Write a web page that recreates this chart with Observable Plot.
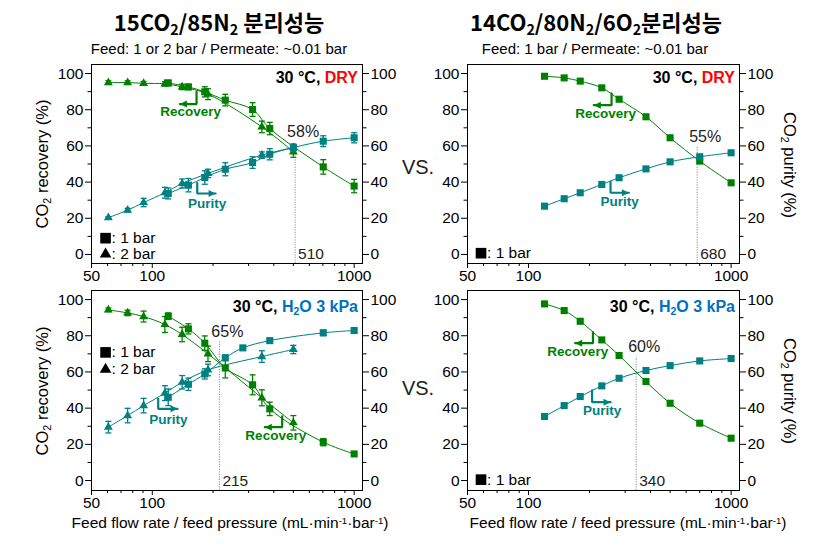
<!DOCTYPE html>
<html>
<head>
<meta charset="utf-8">
<script src="https://cdn.jsdelivr.net/npm/d3@7"></script>
<script src="https://cdn.jsdelivr.net/npm/@observablehq/plot@0.6"></script>
<style>
  html, body { margin: 0; padding: 0; background: #fff; }
  #chart { position: relative; width: 822px; height: 546px; overflow: hidden; background: #fff;
           font-family: "Liberation Sans", Arial, sans-serif; color: #000; }
  .abs { position: absolute; white-space: nowrap; line-height: 1; }
  .title { font-family: "Noto Sans CJK KR", "Liberation Sans", sans-serif; font-weight: bold; font-size: 22px; transform: translateX(-50%); }
  .sub { font-family: "Liberation Sans", Arial, sans-serif; font-size: 15px; transform: translateX(-50%); }
  .cond { font-weight: bold; font-size: 16px; }
  .ylab { font-size: 16.5px; }
  .xlab { font-size: 15.5px; transform: translateX(-50%); }
  .vs { font-size: 20px; color: #222; transform: translate(-50%, -50%); }
  sub { font-size: 0.65em; vertical-align: -0.3em; line-height: 0; }
  sup { font-size: 0.62em; vertical-align: 0.45em; line-height: 0; }
</style>
</head>
<body>
<div id="chart">
  <div class="abs title" style="left:219px; top:10px;">15CO<sub>2</sub>/85N<sub>2</sub> 분리성능</div>
  <div class="abs sub" style="left:219px; top:41px;">Feed: 1 or 2 bar / Permeate: ~0.01 bar</div>
  <div class="abs title" style="left:596px; top:10px;">14CO<sub>2</sub>/80N<sub>2</sub>/6O<sub>2</sub>분리성능</div>
  <div class="abs sub" style="left:595px; top:41px;">Feed: 1 bar / Permeate: ~0.01 bar</div>

  <div id="pA" class="abs" style="left:0px; top:56px;"></div>
  <div id="pB" class="abs" style="left:411px; top:56px;"></div>
  <div id="pC" class="abs" style="left:0px; top:284px;"></div>
  <div id="pD" class="abs" style="left:411px; top:284px;"></div>

  <div class="abs cond" style="right:464px; top:70px;">30 °C, <span style="color:#ff0000">DRY</span></div>
  <div class="abs cond" style="right:87px; top:70px;">30 °C, <span style="color:#ff0000">DRY</span></div>
  <div class="abs cond" style="right:464px; top:299px;">30 °C, <span style="color:#0070c0">H<sub>2</sub>O 3 kPa</span></div>
  <div class="abs cond" style="right:87px; top:299px;">30 °C, <span style="color:#0070c0">H<sub>2</sub>O 3 kPa</span></div>

  <div class="abs ylab" style="left:42px; top:164px; transform:translate(-50%,-50%) rotate(-90deg);">CO<sub>2</sub> recovery (%)</div>
  <div class="abs ylab" style="left:42px; top:391px; transform:translate(-50%,-50%) rotate(-90deg);">CO<sub>2</sub> recovery (%)</div>
  <div class="abs ylab" style="left:790px; top:165px; transform:translate(-50%,-50%) rotate(90deg);">CO<sub>2</sub> purity (%)</div>
  <div class="abs ylab" style="left:790px; top:391px; transform:translate(-50%,-50%) rotate(90deg);">CO<sub>2</sub> purity (%)</div>

  <div class="abs vs" style="left:418px; top:167px;">VS.</div>
  <div class="abs vs" style="left:418px; top:388px;">VS.</div>

  <div class="abs xlab" style="left:230px; top:515px;">Feed flow rate / feed pressure (mL·min<sup>-1</sup>·bar<sup>-1</sup>)</div>
  <div class="abs xlab" style="left:628px; top:515px;">Feed flow rate / feed pressure (mL·min<sup>-1</sup>·bar<sup>-1</sup>)</div>
</div>
<script>
// ---------------- DATA ----------------
// Panel A: 15CO2/85N2, 30 °C, DRY (1 bar squares, 2 bar triangles)
const A_rec1_x = [120, 151, 182, 230, 314, 382, 703, 1000];
const A_rec1_y = [94.8, 92.6, 89.9, 85.3, 80.1, 69.6, 48.4, 37.8];
const A_rec1_e = [1.5, 1.5, 2.8, 3.2, 3.8, 3.4, 4.0, 3.7];
const A_pur1_x = [120, 151, 182, 230, 314, 382, 500, 703, 1000];
const A_pur1_y = [33.7, 38.3, 42.5, 47.1, 50.8, 55.4, 59.1, 62.6, 64.5];
const A_pur1_e = [3.0, 3.7, 3.7, 3.6, 3.2, 3.1, 2.0, 3.0, 2.8];
const A_x2 = [60.6, 75.5, 90.6, 115.5, 140.6, 188.8, 349, 500];
const A_rec2_y = [95.0, 95.0, 94.6, 94.3, 92.6, 88.6, 70.5, 56.7];
const A_rec2_e = [1.0, 1.0, 1.0, 1.2, 1.5, 3.0, 3.2, 3.0];
const A_pur2_y = [20.3, 24.5, 28.7, 34.1, 39.2, 44.8, 54.9, 59.1];
const A_pur2_e = [0.5, 1.0, 2.3, 3.0, 2.5, 2.3, 1.8, 1.5];

// Panel B: 14CO2/80N2/6O2, 30 °C, DRY (1 bar)
const B_x = [120, 150, 180, 230, 280, 380, 500, 700, 1000];
const B_rec = [98.5, 97.6, 95.8, 92.1, 85.8, 76.1, 64.5, 51.6, 39.6];
const B_pur = [26.7, 30.8, 34.1, 38.7, 42.4, 47.3, 51.2, 54.0, 56.2];

// Panel C: 15CO2/85N2, 30 °C, H2O 3 kPa
const C_rec1_x = [120, 151, 182, 230, 314, 382, 703, 1000];
const C_rec1_y = [90.8, 83.8, 75.9, 62.2, 52.9, 39.6, 21.2, 14.7];
const C_rec1_e = [1.8, 2.8, 4.0, 5.5, 5.5, 3.7, 2.0, 1.0];
const C_pur1_x = [120, 151, 182, 230, 281, 382, 703, 1000];
const C_pur1_y = [46.0, 53.2, 58.9, 67.8, 73.3, 77.3, 81.6, 82.9];
const C_pur1_e = [4.6, 3.4, 2.8, 1.5, 1.0, 1.0, 1.5, 1.0];
const C_x2 = [60.6, 75.5, 90.6, 115.5, 140.6, 188.8, 349, 500];
const C_rec2_y = [94.3, 92.6, 90.6, 86.2, 80.7, 70.0, 45.7, 31.9];
const C_rec2_e = [1.0, 1.5, 3.0, 4.4, 4.0, 4.3, 4.4, 4.0];
const C_pur2_y = [29.5, 35.9, 41.4, 48.3, 54.3, 61.1, 68.5, 72.4];
const C_pur2_e = [3.2, 4.0, 4.0, 4.1, 3.7, 3.2, 3.2, 2.3];

// Panel D: 14CO2/80N2/6O2, 30 °C, H2O 3 kPa (1 bar)
const D_x = [120, 150, 180, 230, 280, 380, 500, 700, 1000];
const D_rec = [97.6, 93.9, 88.0, 77.7, 69.1, 54.7, 42.7, 31.7, 23.4];
const D_pur = [35.4, 41.4, 46.4, 52.3, 56.5, 60.8, 63.5, 66.1, 67.4];

// crossing markers: flow value, top of dotted line, percent label
const A_cross = {x: 510, top: 60, pct: "58%", py: 67.8, lab: "510"};
const B_cross = {x: 680, top: 60, pct: "55%", py: 64.8, lab: "680"};
const C_cross = {x: 215, top: 77.4, pct: "65%", py: 82, lab: "215"};
const D_cross = {x: 340, top: 68, pct: "60%", py: 73.7, lab: "340"};

// annotation arrows (vertical stem x, stem top, corner y, tip x) and their labels
const A_arrows = [
  {kind: "rec", xv: 165.7, yTop: 89.9, yCorner: 83.1, xEnd: 137, tx: 155, ty: 78.8, text: "Recovery"},
  {kind: "pur", xv: 167, yTop: 39.6, yCorner: 33.7, xEnd: 206, tx: 187, ty: 28.2, text: "Purity"}
];
const B_arrows = [
  {kind: "rec", xv: 257, yTop: 89, yCorner: 82.5, xEnd: 210, tx: 240, ty: 77.9, text: "Recovery"},
  {kind: "pur", xv: 254, yTop: 40.1, yCorner: 34.1, xEnd: 313, tx: 282, ty: 29.1, text: "Purity"}
];
const C_arrows = [
  {kind: "pur", xv: 107, yTop: 45.2, yCorner: 39.6, xEnd: 133.4, tx: 120, ty: 33.5, text: "Purity"},
  {kind: "rec", xv: 440, yTop: 35.4, yCorner: 29.5, xEnd: 361, tx: 409, ty: 24.9, text: "Recovery"}
];
const D_arrows = [
  {kind: "rec", xv: 208, yTop: 82, yCorner: 75.9, xEnd: 170, tx: 175, ty: 71.3, text: "Recovery"},
  {kind: "pur", xv: 206, yTop: 49.8, yCorner: 43.3, xEnd: 254, tx: 231, ty: 38.7, text: "Purity"}
];

// legend entries (symbol, anchor position in data units, label)
const A_legend = [{sym: "square", x: 58.7, y: 9.0, text: ": 1 bar"}, {sym: "triangle", x: 58.7, y: 0.2, text: ": 2 bar"}];
const B_legend = [{sym: "square", x: 58.3, y: 0.7, text: ": 1 bar"}];
const C_legend = [{sym: "square", x: 58.7, y: 70.8, text: ": 1 bar"}, {sym: "triangle", x: 58.7, y: 61.4, text: ": 2 bar"}];
const D_legend = [{sym: "square", x: 58.3, y: 0.5, text: ": 1 bar"}];

// axis ticks
const xMajor = [50, 100, 1000];
const xMinor = [60, 70, 80, 90, 200, 300, 400, 500, 600, 700, 800, 900];
const yMajor = [0, 20, 40, 60, 80, 100];
const yMinor = [10, 30, 50, 70, 90];

// ---------------- DRAWING ----------------
const REC = "#008000", PUR = "#008080";
const capSym = {draw(ctx, size) { const w = Math.sqrt(size / Math.PI); ctx.moveTo(-w, 0); ctx.lineTo(w, 0); }};
const tipLeft = {draw(ctx, size) { const s = Math.sqrt(size / Math.PI); ctx.moveTo(0, 0); ctx.lineTo(2 * s, -s); ctx.lineTo(2 * s, s); ctx.closePath(); }};
const tipRight = {draw(ctx, size) { const s = Math.sqrt(size / Math.PI); ctx.moveTo(0, 0); ctx.lineTo(-2 * s, -s); ctx.lineTo(-2 * s, s); ctx.closePath(); }};
const noText = () => "";

function rows(xs, ys, es) { return xs.map((x, i) => ({x, y: ys[i], e: es ? es[i] : 0})); }

function makePanel(cfg) {
  const marks = [];
  marks.push(Plot.frame({stroke: "#000"}));
  marks.push(Plot.axisY({ticks: yMajor, anchor: "left", tickSize: 6, tickPadding: 2, label: null}));
  marks.push(Plot.axisY({ticks: yMinor, anchor: "left", tickSize: 3.5, tickFormat: noText, label: null}));
  marks.push(Plot.axisY({ticks: yMajor, anchor: "right", tickSize: 6, tickPadding: 2, label: null}));
  marks.push(Plot.axisY({ticks: yMinor, anchor: "right", tickSize: 3.5, tickFormat: noText, label: null}));
  marks.push(Plot.axisX({ticks: xMajor, anchor: "bottom", tickSize: 5, tickPadding: 1, tickFormat: d => String(d), label: null}));
  marks.push(Plot.axisX({ticks: xMinor, anchor: "bottom", tickSize: 3, tickFormat: noText, label: null}));

  const c = cfg.cross;
  marks.push(Plot.ruleX([c], {x: "x", y1: () => cfg.yMin, y2: "top", stroke: "#8c8c8c", strokeWidth: 1, strokeDasharray: "1.2,1.3"}));
  marks.push(Plot.text([c], {x: "x", y: "py", text: "pct", dx: 8, fontSize: 16, fill: "#222"}));
  marks.push(Plot.text([c], {x: "x", y: () => 0, text: "lab", dx: 3, textAnchor: "start", fontSize: 15.5, fill: "#222"}));

  for (const s of cfg.series) {
    const data = rows(s.x, s.y, s.e);
    marks.push(Plot.line(data, {x: "x", y: "y", stroke: s.color, strokeWidth: 1, curve: "catmull-rom"}));
  }
  for (const s of cfg.series) {
    const data = rows(s.x, s.y, s.e);
    if (s.e) {
      marks.push(Plot.ruleX(data, {x: "x", y1: d => d.y - d.e, y2: d => d.y + d.e, stroke: s.color, strokeWidth: 1.3}));
      marks.push(Plot.dot(data, {x: "x", y: d => d.y - d.e, symbol: capSym, r: 3, stroke: s.color, strokeWidth: 1.3, fill: "none"}));
      marks.push(Plot.dot(data, {x: "x", y: d => d.y + d.e, symbol: capSym, r: 3, stroke: s.color, strokeWidth: 1.3, fill: "none"}));
    }
    marks.push(Plot.dot(data, {x: "x", y: "y", symbol: s.sym, r: s.sym === "square" ? 4 : 3.3, fill: s.color, stroke: "none"}));
  }

  // arrows
  const arrowPts = cfg.arrows.flatMap((a, i) => [
    {i, x: a.xv, y: a.yTop}, {i, x: a.xv, y: a.yCorner}, {i, x: a.xEnd, y: a.yCorner}
  ]);
  const colorOf = a => a.kind === "rec" ? REC : PUR;
  marks.push(Plot.line(arrowPts, {x: "x", y: "y", z: "i", stroke: d => colorOf(cfg.arrows[d.i]), strokeWidth: 2.2, strokeLinejoin: "miter"}));
  marks.push(Plot.dot(cfg.arrows, {x: "xEnd", y: "yCorner", symbol: a => a.kind === "rec" ? tipLeft : tipRight, r: 3.5, fill: colorOf, stroke: "none"}));
  marks.push(Plot.text(cfg.arrows, {x: "tx", y: "ty", text: "text", fill: colorOf, fontSize: 13.5, fontWeight: "bold"}));

  // legend
  const legSq = cfg.legend.filter(d => d.sym === "square");
  const legTri = cfg.legend.filter(d => d.sym === "triangle");
  marks.push(Plot.dot(legSq, {x: "x", y: "y", symbol: "square", r: 6, fill: "#000", stroke: "none"}));
  marks.push(Plot.dot(legTri, {x: "x", y: "y", symbol: "triangle", r: 4.3, fill: "#000", stroke: "none"}));
  marks.push(Plot.text(cfg.legend, {x: "x", y: "y", text: "text", dx: 6, textAnchor: "start", fontSize: 15.5, fill: "#000"}));

  return Plot.plot({
    width: cfg.width, height: cfg.height,
    marginLeft: cfg.ml, marginRight: cfg.mr, marginTop: cfg.mt, marginBottom: cfg.mb,
    x: {type: "log", domain: [50, 1100]},
    y: {domain: [cfg.yMin, 105]},
    symbol: {type: "identity"},
    style: {fontFamily: '"Liberation Sans", Arial, sans-serif', fontSize: "15.5px", color: "#000", overflow: "visible", background: "transparent"},
    marks
  });
}

const topCfg = {width: 411, height: 230, mt: 8, mb: 23, yMin: -5};
const botCfg = {width: 411, height: 230, mt: 6, mb: 24, yMin: -5.5};
const leftCfg = {ml: 91, mr: 49};
const rightCfg = {ml: 56, mr: 83};

document.getElementById("pA").append(makePanel({...topCfg, ...leftCfg, cross: A_cross, arrows: A_arrows, legend: A_legend,
  series: [
    {x: A_rec1_x, y: A_rec1_y, e: A_rec1_e, color: REC, sym: "square"},
    {x: A_x2, y: A_rec2_y, e: A_rec2_e, color: REC, sym: "triangle"},
    {x: A_pur1_x, y: A_pur1_y, e: A_pur1_e, color: PUR, sym: "square"},
    {x: A_x2, y: A_pur2_y, e: A_pur2_e, color: PUR, sym: "triangle"}
  ]}));
document.getElementById("pB").append(makePanel({...topCfg, ...rightCfg, cross: B_cross, arrows: B_arrows, legend: B_legend,
  series: [
    {x: B_x, y: B_rec, color: REC, sym: "square"},
    {x: B_x, y: B_pur, color: PUR, sym: "square"}
  ]}));
document.getElementById("pC").append(makePanel({...botCfg, ...leftCfg, cross: C_cross, arrows: C_arrows, legend: C_legend,
  series: [
    {x: C_rec1_x, y: C_rec1_y, e: C_rec1_e, color: REC, sym: "square"},
    {x: C_x2, y: C_rec2_y, e: C_rec2_e, color: REC, sym: "triangle"},
    {x: C_pur1_x, y: C_pur1_y, e: C_pur1_e, color: PUR, sym: "square"},
    {x: C_x2, y: C_pur2_y, e: C_pur2_e, color: PUR, sym: "triangle"}
  ]}));
document.getElementById("pD").append(makePanel({...botCfg, ...rightCfg, cross: D_cross, arrows: D_arrows, legend: D_legend,
  series: [
    {x: D_x, y: D_rec, color: REC, sym: "square"},
    {x: D_x, y: D_pur, color: PUR, sym: "square"}
  ]}));
</script>
</body>
</html>
